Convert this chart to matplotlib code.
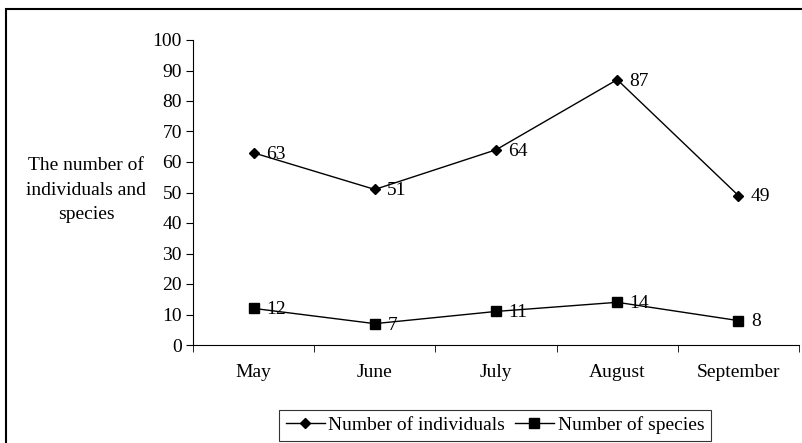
import matplotlib.pyplot as plt
from matplotlib.patches import Rectangle

months = ["May", "June", "July", "August", "September"]
individuals = [63, 51, 64, 87, 49]
species = [12, 7, 11, 14, 8]

plt.rcParams['font.family'] = ['Liberation Serif', 'DejaVu Serif']
plt.rcParams['font.size'] = 14

fig = plt.figure(figsize=(8.03, 4.43), dpi=100)
ax = fig.add_axes([193 / 803, 1 - 345 / 443, 606 / 803, 305 / 443])

x = list(range(len(months)))
ax.plot(x, individuals, color='black', linewidth=1, marker='D', markersize=5.5,
        label="Number of individuals")
ax.plot(x, species, color='black', linewidth=1, marker='s', markersize=6.5,
        label="Number of species")

# value labels to the right of each point
for xi, v in zip(x, individuals):
    ax.annotate(str(v), (xi, v), xytext=(9, -1), textcoords='offset points',
                va='center', ha='left')
for xi, v in zip(x, species):
    ax.annotate(str(v), (xi, v), xytext=(9, -1), textcoords='offset points',
                va='center', ha='left')

ax.set_xlim(-0.5, len(months) - 0.5)
ax.set_ylim(0, 100)
ax.set_yticks(range(0, 101, 10))
ax.set_xticks(x)
ax.set_xticklabels(months)
ax.set_xticks([i - 0.5 for i in range(len(months) + 1)], minor=True)
ax.tick_params(axis='x', which='major', length=0, pad=14)
ax.tick_params(axis='x', which='minor', length=5, direction='out')
ax.tick_params(axis='y', length=5, direction='out', pad=3)

for side in ['top', 'right']:
    ax.spines[side].set_visible(False)
ax.spines['left'].set_linewidth(0.8)
ax.spines['bottom'].set_linewidth(0.8)

fig.text(86 / 803, 1 - 190 / 443, "The number of\nindividuals and\nspecies",
         ha='center', va='center', linespacing=1.6)

leg = fig.legend(loc='lower center', bbox_to_anchor=(495 / 803, 0.0), ncol=2,
                 frameon=True, fancybox=False, edgecolor='black',
                 handlelength=2.0, columnspacing=0.5, handletextpad=0.2,
                 borderpad=0.35, borderaxespad=0.1)
leg.get_frame().set_linewidth(0.8)

# outer chart border
fig.patches.append(Rectangle((6 / 803, -0.05), 1.0, 1 - 9 / 443 + 0.05,
                             transform=fig.transFigure, fill=False,
                             edgecolor='black', linewidth=1.5))

fig.savefig("out.png", dpi=100)
